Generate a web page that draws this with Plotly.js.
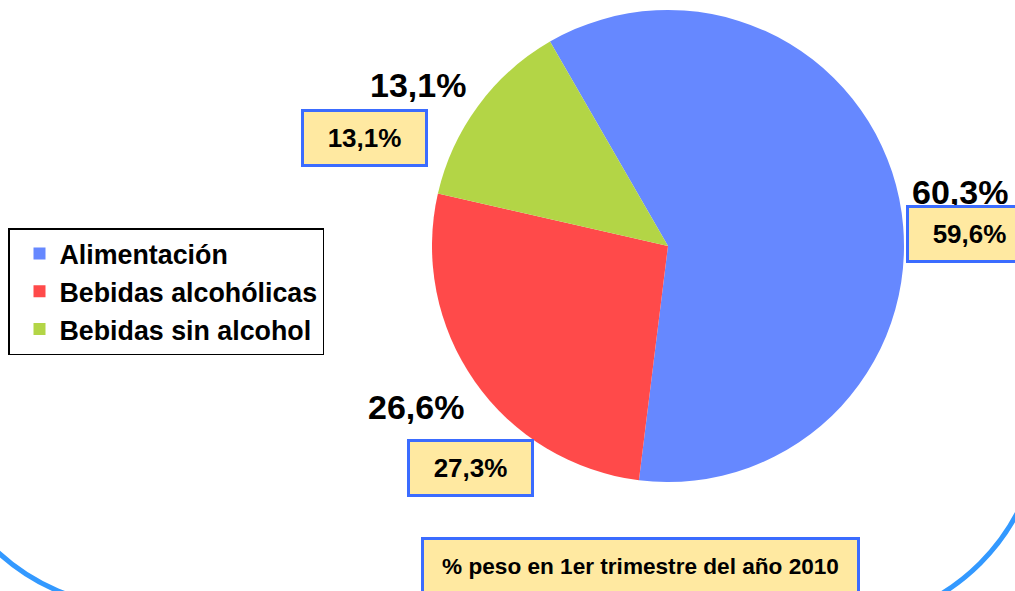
<!DOCTYPE html>
<html>
<head>
<meta charset="utf-8">
<script src="https://cdn.plot.ly/plotly-3.0.1.min.js"></script>
<style>html,body{margin:0;padding:0;background:#fff}</style>
</head>
<body>
<div id="chart" style="width:1015px;height:591px"></div>
<script>
const categories = ['Alimentación', 'Bebidas alcohólicas', 'Bebidas sin alcohol'];
const pesoActual = [60.3, 26.6, 13.1];
const peso2010 = [59.6, 27.3, 13.1];
const sliceColors = ['#6688ff', '#ff4a4a', '#b3d546'];
const footText = '% peso en 1er trimestre del año 2010';

const W = 1015, H = 591;
const px = x => x / W;
const py = y => 1 - y / H;
const pct = v => v.toFixed(1).replace('.', ',') + '%';

// where the labels sit, in page pixels
const bigPos = [[960, 192], [416, 407], [418, 85]];
const boxPos = [[969, 234], [470, 468], [364, 138]];

const FONT = 'Liberation Sans, Arial, sans-serif';
const boxFill = '#ffe9a1';
const boxLine = '#3b6cff';

const pie = {
	type: 'pie',
	labels: categories,
	values: pesoActual,
	sort: false,
	direction: 'clockwise',
	rotation: -30,
	textinfo: 'none',
	hoverinfo: 'label+percent',
	marker: { colors: sliceColors, line: { width: 0 } },
	domain: { x: [px(432), px(904)], y: [py(482), py(10)] }
};

const annotations = [];
pesoActual.forEach((v, i) => {
	annotations.push({
		xref: 'paper', yref: 'paper',
		x: px(bigPos[i][0]), y: py(bigPos[i][1]),
		xanchor: 'center', yanchor: 'middle',
		showarrow: false,
		text: pct(v),
		font: { family: FONT, size: 34, weight: 'bold', color: '#000' }
	});
});
peso2010.forEach((v, i) => {
	annotations.push({
		xref: 'paper', yref: 'paper',
		x: px(boxPos[i][0]), y: py(boxPos[i][1]),
		xanchor: 'center', yanchor: 'middle',
		showarrow: false,
		text: pct(v),
		width: 121, height: 52,
		bgcolor: boxFill, bordercolor: boxLine, borderwidth: 3, borderpad: 0,
		font: { family: FONT, size: 26, weight: 'bold', color: '#000' }
	});
});
annotations.push({
	xref: 'paper', yref: 'paper',
	x: px(640), y: py(566),
	xanchor: 'center', yanchor: 'middle',
	showarrow: false,
	text: footText,
	width: 433, height: 52,
	bgcolor: boxFill, bordercolor: boxLine, borderwidth: 3, borderpad: 0,
	font: { family: FONT, size: 22.6, weight: 'bold', color: '#000' }
});

// rounded frame corners peeking in at the bottom
const pt = (x, y) => px(x) + ',' + py(y);
const frameR = 'M' + pt(1041, 417) + ' C' + pt(1041, 531) + ' ' + pt(948, 624) + ' ' + pt(834, 624);
const frameL = 'M' + pt(138, 607) + ' C' + pt(24, 607) + ' ' + pt(-69, 514) + ' ' + pt(-69, 400);

const layout = {
	width: W,
	height: H,
	margin: { l: 0, r: 0, t: 0, b: 0 },
	paper_bgcolor: '#fff',
	showlegend: true,
	legend: {
		x: px(8), y: py(228),
		xanchor: 'left', yanchor: 'top',
		bgcolor: '#fff',
		bordercolor: '#000',
		borderwidth: 1.5,
		indentation: 10,
		font: { family: FONT, size: 26.8, weight: 'bold', color: '#000' }
	},
	annotations: annotations,
	shapes: [
		{ type: 'path', xref: 'paper', yref: 'paper', path: frameR, line: { color: '#3399ff', width: 5 } },
		{ type: 'path', xref: 'paper', yref: 'paper', path: frameL, line: { color: '#3399ff', width: 5 } }
	]
};

Plotly.newPlot('chart', [pie], layout, { displayModeBar: false, staticPlot: true });
</script>
</body>
</html>
